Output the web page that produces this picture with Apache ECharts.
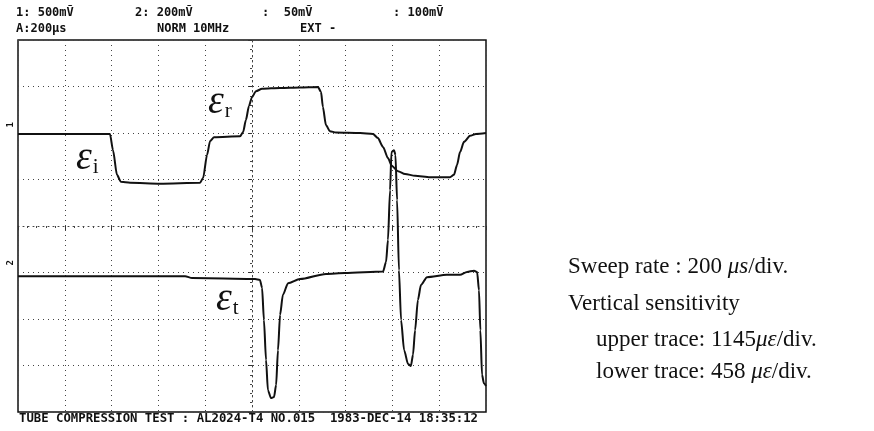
<!DOCTYPE html>
<html>
<head>
<meta charset="utf-8">
<script src="https://cdn.jsdelivr.net/npm/echarts@6/dist/echarts.min.js"></script>
<style>
  html, body { margin: 0; padding: 0; background: #fff; }
  #chart { width: 874px; height: 431px; }
</style>
</head>
<body>
<div id="chart"></div>
<script>
// time in µs relative to screen centre (200 µs/div), level in divisions from centre
var upperTime = [-1000, -607, -594, -577, -560, -521, -393, -222, -209, -192, -179, -162, -51, -38, -26, -13, 0, 17, 43, 120, 205, 282, 295, 303, 316, 333, 359, 462, 517, 538, 560, 581, 598, 624, 654, 697, 761, 846, 863, 876, 889, 906, 932, 957, 1000];
var upperLevel = [1.98, 1.98, 1.63, 1.10, 0.95, 0.93, 0.91, 0.93, 1.03, 1.53, 1.83, 1.91, 1.93, 2.02, 2.28, 2.58, 2.77, 2.90, 2.95, 2.97, 2.98, 2.99, 2.88, 2.56, 2.17, 2.04, 2.01, 2.00, 1.98, 1.89, 1.70, 1.46, 1.29, 1.18, 1.12, 1.08, 1.05, 1.05, 1.10, 1.31, 1.59, 1.81, 1.94, 1.98, 2.00];

var lowerTime = [-1000, -286, -256, 13, 34, 43, 51, 60, 68, 81, 94, 103, 111, 120, 132, 154, 205, 316, 397, 560, 573, 581, 590, 596, 607, 613, 620, 628, 637, 650, 667, 679, 688, 697, 709, 722, 748, 833, 889, 919, 949, 962, 970, 976, 983, 991, 1000];
var lowerLevel = [-1.08, -1.08, -1.12, -1.14, -1.16, -1.33, -2.02, -2.88, -3.53, -3.70, -3.68, -3.42, -2.67, -1.91, -1.48, -1.23, -1.14, -1.03, -1.01, -0.98, -0.77, -0.30, 0.77, 1.59, 1.63, 1.53, 0.56, -0.95, -2.02, -2.67, -2.97, -3.01, -2.77, -2.24, -1.59, -1.27, -1.10, -1.05, -1.05, -0.99, -0.96, -0.99, -1.38, -2.24, -3.20, -3.38, -3.44];

var headerRow1 = ['1: 500m\u1e7c', '2: 200m\u1e7c', ':  50m\u1e7c', ': 100m\u1e7c'];
var headerRow2 = ['A:200\u03bcs', 'NORM 10MHz', 'EXT -'];
var footerText = 'TUBE COMPRESSION TEST : AL2024-T4 NO.015  1983-DEC-14 18:35:12';

function pairs(xs, ys) {
    var out = [];
    for (var i = 0; i < xs.length; i++) out.push([xs[i], ys[i]]);
    return out;
}

var mono = '"DejaVu Sans Mono", monospace';
var serif = '"Liberation Serif", "Times New Roman", serif';
var dotted = { color: '#444', type: [1, 4], width: 1 };

var chart = echarts.init(document.getElementById('chart'));

var graphics = [];
var row1X = [16, 135, 262, 393];
headerRow1.forEach(function (t, i) {
    graphics.push({ type: 'text', left: row1X[i], top: 7,
        style: { text: t, font: 'bold 12px ' + mono, fill: '#111' } });
});
var row2X = [16, 157, 300];
headerRow2.forEach(function (t, i) {
    graphics.push({ type: 'text', left: row2X[i], top: 23,
        style: { text: t, font: 'bold 12px ' + mono, fill: '#111' } });
});
graphics.push({ type: 'text', left: 19, top: 413,
    style: { text: footerText, font: 'bold 12.3px ' + mono, fill: '#111' } });
// channel markers on the left edge
graphics.push({ type: 'text', left: 6, top: 122, rotation: Math.PI / 2,
    style: { text: '1', font: 'bold 9px ' + mono, fill: '#111' } });
graphics.push({ type: 'text', left: 6, top: 260, rotation: Math.PI / 2,
    style: { text: '2', font: 'bold 9px ' + mono, fill: '#111' } });

function epsLabel(x, y, sub) {
    return { type: 'text', left: x, top: y,
        style: {
            text: '{e|\u03b5}{s|' + sub + '}',
            rich: {
                e: { font: 'italic 40px ' + serif, fill: '#111' },
                s: { font: '21px ' + serif, fill: '#111', padding: [18, 0, 0, 1] }
            }
        } };
}
graphics.push(epsLabel(76, 138, 'i'));
graphics.push(epsLabel(208, 82, 'r'));
graphics.push(epsLabel(216, 279, 't'));

var notes = [
    { x: 568, y: 255, parts: ['Sweep rate : 200 ', '\u03bcs', '/div.'] },
    { x: 568, y: 292, parts: ['Vertical sensitivity', '', ''] },
    { x: 596, y: 328, parts: ['upper trace: 1145', '\u03bc\u03b5', '/div.'] },
    { x: 596, y: 360, parts: ['lower trace: 458 ', '\u03bc\u03b5', '/div.'] }
];
notes.forEach(function (n) {
    graphics.push({ type: 'text', left: n.x, top: n.y,
        style: {
            text: n.parts[0] + (n.parts[1] ? '{i|' + n.parts[1] + '}' : '') + n.parts[2],
            font: '23px ' + serif, fill: '#111',
            rich: { i: { font: 'italic 23px ' + serif, fill: '#111' } }
        } });
});

chart.setOption({
    animation: false,
    backgroundColor: '#fff',
    grid: { left: 18, top: 40, width: 468, height: 372, show: true,
            borderColor: '#111', borderWidth: 1.5, backgroundColor: 'transparent' },
    xAxis: {
        type: 'value', min: -1000, max: 1000, interval: 200,
        axisLine: { show: true, onZero: true, lineStyle: dotted },
        axisTick: { show: true, length: 4, lineStyle: { color: '#333' } },
        minorTick: { show: true, splitNumber: 5, length: 2, lineStyle: { color: '#444' } },
        axisLabel: { show: false },
        splitLine: { show: true, lineStyle: dotted }
    },
    yAxis: {
        type: 'value', min: -4, max: 4, interval: 1,
        axisLine: { show: true, onZero: true, lineStyle: dotted },
        axisTick: { show: true, length: 4, lineStyle: { color: '#333' } },
        minorTick: { show: true, splitNumber: 5, length: 2, lineStyle: { color: '#444' } },
        axisLabel: { show: false },
        splitLine: { show: true, lineStyle: dotted }
    },
    series: [
        { name: 'upper', type: 'line', data: pairs(upperTime, upperLevel),
          showSymbol: false, smooth: 0.25, smoothMonotone: 'x',
          lineStyle: { color: '#111', width: 2 } },
        { name: 'lower', type: 'line', data: pairs(lowerTime, lowerLevel),
          showSymbol: false, smooth: 0.25, smoothMonotone: 'x',
          lineStyle: { color: '#111', width: 2 } }
    ],
    graphic: graphics
});
</script>
</body>
</html>
